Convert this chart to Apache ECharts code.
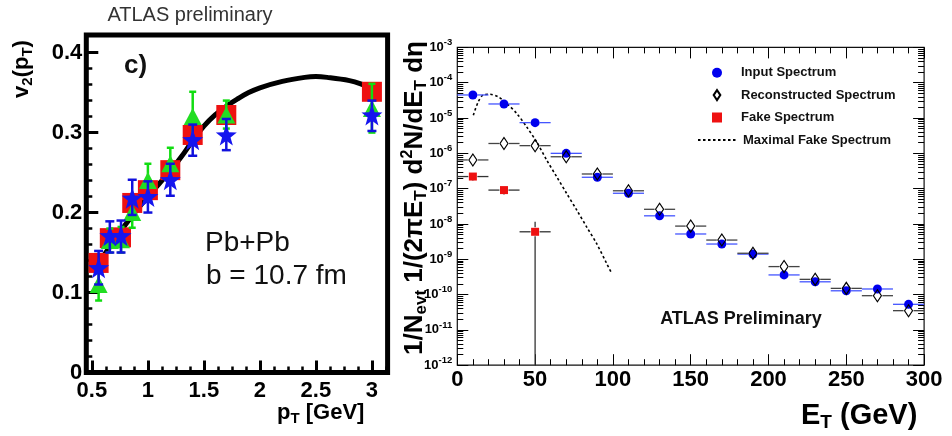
<!DOCTYPE html>
<html>
<head>
<meta charset="utf-8">
<script src="https://cdn.jsdelivr.net/npm/echarts@6/dist/echarts.min.js"></script>
<style>
  html, body { margin: 0; padding: 0; background: #fff; }
  #chart { width: 952px; height: 436px; }
</style>
</head>
<body>
<div id="chart"></div>
<script>
const FONT = '"Liberation Sans", Arial, sans-serif'

// ---- left panel: v2(pT), Pb+Pb b = 10.7 fm ----
const PT = [0.56, 0.66, 0.76, 0.86, 1.0, 1.2, 1.4, 1.7, 3.0]
const RED_V2 = [0.137, 0.168, 0.169, 0.212, 0.228, 0.253, 0.297, 0.322, 0.351]
const GREEN_V2 = [0.110, 0.165, 0.166, 0.200, 0.240, 0.261, 0.320, 0.322, 0.330]
const GREEN_LO = [0.090, 0.150, 0.150, 0.181, 0.220, 0.242, 0.292, 0.305, 0.300]
const GREEN_HI = [0.128, 0.180, 0.182, 0.214, 0.261, 0.281, 0.351, 0.340, 0.361]
const BLUE_V2 = [0.131, 0.171, 0.171, 0.218, 0.220, 0.241, 0.291, 0.297, 0.322]
const BLUE_LO = [0.110, 0.150, 0.150, 0.197, 0.200, 0.221, 0.271, 0.278, 0.302]
const BLUE_HI = [0.152, 0.189, 0.190, 0.241, 0.239, 0.261, 0.310, 0.317, 0.340]
const CURVE_PT = [0.55, 0.6, 0.7, 0.8, 0.9, 1.0, 1.1, 1.2, 1.3, 1.4, 1.5, 1.6, 1.7, 1.8, 1.9, 2.0, 2.2, 2.4, 2.5, 2.6, 2.8, 2.9, 3.0]
const CURVE_V2 = [0.135, 0.145, 0.165, 0.185, 0.203, 0.220, 0.236, 0.252, 0.270, 0.290, 0.308, 0.322, 0.333, 0.342, 0.350, 0.356, 0.364, 0.369, 0.370, 0.369, 0.365, 0.361, 0.355]
const PT_TICKS = [0.5, 1, 1.5, 2, 2.5, 3]
const V2_TICKS = [0, 0.1, 0.2, 0.3, 0.4]

// ---- right panel: ET spectra ----
const ET = [10, 30, 50, 70, 90, 110, 130, 150, 170, 190, 210, 230, 250, 270, 290]
const BIN_HALF = 10
const INPUT = [4.5e-5, 2.5e-5, 7.4e-6, 1.0e-6, 2.1e-7, 7.4e-8, 1.7e-8, 5.2e-9, 2.7e-9, 1.4e-9, 3.6e-10, 2.3e-10, 1.28e-10, 1.44e-10, 5.3e-11]
const RECO = [6.5e-7, 1.9e-6, 1.65e-6, 8.0e-7, 2.6e-7, 8.7e-8, 2.6e-8, 8.7e-9, 3.5e-9, 1.48e-9, 6.2e-10, 2.7e-10, 1.5e-10, 9.3e-11, 3.5e-11]
const FAKE_ET = [10, 30, 50]
const FAKE = [2.2e-7, 9.1e-8, 6.0e-9]
const FAKE_LO = [1.7e-7, 7.8e-8, 1e-12]
const FAKE_HI = [2.2e-7, 9.1e-8, 1.15e-8]
const MAXFAKE_ET = [10.3, 13.5, 16.7, 21, 26.3, 31.7, 38.2, 44.6, 51, 57.4, 63.8, 70.2, 76.7, 83.1, 89.5, 96, 99.2]
const MAXFAKE = [1.2e-5, 2.9e-5, 4.5e-5, 4.7e-5, 4.0e-5, 2.6e-5, 1.35e-5, 5.6e-6, 2.1e-6, 6.5e-7, 2.2e-7, 7.4e-8, 2.5e-8, 8.3e-9, 2.8e-9, 7.6e-10, 4.0e-10]
const ET_TICKS = [0, 50, 100, 150, 200, 250, 300]
const DECADES = [1e-12, 1e-11, 1e-10, 1e-9, 1e-8, 1e-7, 1e-6, 1e-5, 1e-4, 1e-3]

const zip = (...cols) => cols[0].map((_, i) => cols.map(c => c[i]))

// minor tick positions
const ptMinor = []
for (let v = 0.5; v < 3.14; v += 0.125) ptMinor.push(+v.toFixed(3))
const v2Minor = []
for (let v = 0; v < 0.42; v += 0.02) v2Minor.push(+v.toFixed(2))
const logMinor = []
DECADES.slice(0, -1).forEach(d => { for (let m = 2; m <= 9; m++) logMinor.push(m * d) })

function vErr(color, cap, width) {
  return (params, api) => {
    const x = api.value(0)
    const lo = api.coord([x, api.value(1)])
    const hi = api.coord([x, api.value(2)])
    const style = { stroke: color, lineWidth: width }
    return {
      type: 'group',
      children: [
        { type: 'line', shape: { x1: lo[0], y1: lo[1], x2: hi[0], y2: hi[1] }, style },
        { type: 'line', shape: { x1: lo[0] - cap, y1: lo[1], x2: lo[0] + cap, y2: lo[1] }, style },
        { type: 'line', shape: { x1: hi[0] - cap, y1: hi[1], x2: hi[0] + cap, y2: hi[1] }, style }
      ]
    }
  }
}

// horizontal bin bars (and vertical bars when given) with a gap round the marker
function hErr(color, gap) {
  return (params, api) => {
    const et = api.value(0)
    const v = api.value(1)
    const c = api.coord([et, v])
    const l = api.coord([et - BIN_HALF, v])
    const r = api.coord([et + BIN_HALF, v])
    const style = { stroke: color, lineWidth: 1.3 }
    const kids = [
      { type: 'line', shape: { x1: l[0], y1: c[1], x2: c[0] - gap, y2: c[1] }, style },
      { type: 'line', shape: { x1: c[0] + gap, y1: c[1], x2: r[0], y2: c[1] }, style }
    ]
    const lo = api.value(2)
    const hi = api.value(3)
    if (lo && lo < v) {
      const p = api.coord([et, lo])
      kids.push({ type: 'line', shape: { x1: c[0], y1: c[1] + gap, x2: c[0], y2: p[1] }, style })
    }
    if (hi && hi > v) {
      const p = api.coord([et, hi])
      kids.push({ type: 'line', shape: { x1: c[0], y1: c[1] - gap, x2: c[0], y2: p[1] }, style })
    }
    return { type: 'group', children: kids }
  }
}

const STAR = 'path://M12,0 L14.9,8.1 L23.4,8.3 L16.6,13.5 L19.1,21.7 L12,16.8 L4.9,21.7 L7.4,13.5 L0.6,8.3 L9.1,8.1 Z'
const NARROW_DIAMOND = 'path://M4,0 L8,6 L4,12 L0,6 Z'

const boldLbl = (size) => ({ fontFamily: FONT, fontWeight: 'bold', fontSize: size, color: '#000' })
const legendText = { fontFamily: FONT, fontWeight: 'bold', fontSize: 13, lineHeight: 14, color: '#111' }

const chart = echarts.init(document.getElementById('chart'))

const option = {
  animation: false,
  backgroundColor: '#fff',
  grid: [
    { left: 86.3, top: 35, width: 301.3, height: 337.5, show: true, borderWidth: 5, borderColor: '#000', backgroundColor: 'transparent' },
    { left: 457.3, top: 47.4, width: 466.8, height: 317.8, show: true, borderWidth: 1.2, borderColor: '#111', backgroundColor: 'transparent' }
  ],
  xAxis: [
    {
      gridIndex: 0, type: 'value', min: 0.45, max: 3.14, position: 'bottom',
      axisLine: { show: false }, splitLine: { show: false },
      axisTick: { inside: true, length: 12, customValues: PT_TICKS, lineStyle: { color: '#000', width: 3 } },
      axisLabel: { customValues: PT_TICKS, margin: 7, ...boldLbl(22), formatter: v => String(v) }
    },
    {
      gridIndex: 0, type: 'value', min: 0.45, max: 3.14, position: 'bottom',
      axisLine: { show: false }, splitLine: { show: false }, axisLabel: { show: false },
      axisTick: { inside: true, length: 6, customValues: ptMinor, lineStyle: { color: '#000', width: 2.5 } }
    },
    {
      gridIndex: 1, type: 'value', min: 0, max: 300, interval: 50, position: 'bottom',
      axisLine: { show: false }, splitLine: { show: false },
      axisTick: { inside: true, length: 11, lineStyle: { color: '#000', width: 1 } },
      minorTick: { show: true, splitNumber: 5, length: 6, lineStyle: { color: '#000', width: 1 } },
      axisLabel: { margin: 4, ...boldLbl(22), customValues: ET_TICKS }
    },
    {
      gridIndex: 1, type: 'value', min: 0, max: 300, interval: 50, position: 'top',
      axisLine: { show: false }, splitLine: { show: false }, axisLabel: { show: false },
      axisTick: { inside: true, length: 11, lineStyle: { color: '#000', width: 1 } },
      minorTick: { show: true, splitNumber: 5, length: 6, lineStyle: { color: '#000', width: 1 } }
    }
  ],
  yAxis: [
    {
      gridIndex: 0, type: 'value', min: 0, max: 0.422, position: 'left',
      axisLine: { show: false }, splitLine: { show: false },
      axisTick: { inside: true, length: 12, customValues: V2_TICKS, lineStyle: { color: '#000', width: 3 } },
      axisLabel: { customValues: V2_TICKS, margin: 4, ...boldLbl(22), formatter: v => (v === 0 ? '0' : v.toFixed(1)) }
    },
    {
      gridIndex: 0, type: 'value', min: 0, max: 0.422, position: 'left',
      axisLine: { show: false }, splitLine: { show: false }, axisLabel: { show: false },
      axisTick: { inside: true, length: 6, customValues: v2Minor, lineStyle: { color: '#000', width: 2.5 } }
    },
    {
      gridIndex: 1, type: 'log', logBase: 10, min: 1e-12, max: 1e-3, position: 'left',
      axisLine: { show: false }, splitLine: { show: false },
      axisTick: { inside: true, length: 11, customValues: DECADES, lineStyle: { color: '#000', width: 1 } },
      axisLabel: {
        customValues: DECADES, margin: 5,
        formatter: v => `{n|10}{e|${Math.round(Math.log10(v))}}`,
        rich: {
          n: { fontFamily: FONT, fontWeight: 'bold', fontSize: 13, lineHeight: 20, color: '#000' },
          e: { fontFamily: FONT, fontWeight: 'bold', fontSize: 9.5, lineHeight: 10, verticalAlign: 'top', color: '#000' }
        }
      }
    },
    {
      gridIndex: 1, type: 'log', logBase: 10, min: 1e-12, max: 1e-3, position: 'left',
      axisLine: { show: false }, splitLine: { show: false }, axisLabel: { show: false },
      axisTick: { inside: true, length: 6, customValues: logMinor, lineStyle: { color: '#000', width: 1 } }
    },
    {
      gridIndex: 1, type: 'log', logBase: 10, min: 1e-12, max: 1e-3, position: 'right',
      axisLine: { show: false }, splitLine: { show: false }, axisLabel: { show: false },
      axisTick: { inside: true, length: 11, customValues: DECADES, lineStyle: { color: '#000', width: 1 } }
    },
    {
      gridIndex: 1, type: 'log', logBase: 10, min: 1e-12, max: 1e-3, position: 'right',
      axisLine: { show: false }, splitLine: { show: false }, axisLabel: { show: false },
      axisTick: { inside: true, length: 6, customValues: logMinor, lineStyle: { color: '#000', width: 1 } }
    }
  ],
  legend: [
    {
      data: ['Input Spectrum', { name: 'Reconstructed Spectrum', icon: NARROW_DIAMOND }, 'Fake Spectrum'],
      orient: 'vertical', left: 707, top: 60.7,
      itemWidth: 10, itemHeight: 10, itemGap: 8.4, selectedMode: false, symbolKeepAspect: true,
      textStyle: { ...legendText, padding: [0, 0, 0, 14] }
    },
    {
      data: [{ name: 'Maximal Fake Spectrum', itemStyle: { opacity: 0 } }],
      orient: 'vertical', left: 692, top: 128,
      itemWidth: 38, itemHeight: 10, selectedMode: false,
      textStyle: { ...legendText, padding: [0, 0, 0, 2] }
    }
  ],
  series: [
    // left panel
    {
      type: 'line', xAxisIndex: 0, yAxisIndex: 0, smooth: 0.4, symbol: 'none', z: 1,
      lineStyle: { color: '#000', width: 5 },
      data: zip(CURVE_PT, CURVE_V2)
    },
    {
      name: 'red', type: 'scatter', xAxisIndex: 0, yAxisIndex: 0, symbol: 'rect', symbolSize: 20, z: 2,
      itemStyle: { color: '#ee1111', opacity: 1 },
      data: zip(PT, RED_V2)
    },
    {
      type: 'custom', xAxisIndex: 0, yAxisIndex: 0, z: 3,
      renderItem: vErr('#11dd11', 3.5, 2.5),
      encode: { x: 0, y: [1, 2] },
      data: zip(PT, GREEN_LO, GREEN_HI)
    },
    {
      name: 'green', type: 'scatter', xAxisIndex: 0, yAxisIndex: 0, symbol: 'triangle', symbolSize: [18, 17], z: 4,
      itemStyle: { color: '#22dd22', opacity: 1 },
      data: zip(PT, GREEN_V2)
    },
    {
      type: 'custom', xAxisIndex: 0, yAxisIndex: 0, z: 5,
      renderItem: vErr('#1111dd', 4.5, 2.5),
      encode: { x: 0, y: [1, 2] },
      data: zip(PT, BLUE_LO, BLUE_HI)
    },
    {
      name: 'blue', type: 'scatter', xAxisIndex: 0, yAxisIndex: 0, symbol: STAR, symbolSize: 21, z: 6,
      itemStyle: { color: '#1515ee', opacity: 1 },
      data: zip(PT, BLUE_V2)
    },

    // right panel
    {
      name: 'Maximal Fake Spectrum', type: 'line', xAxisIndex: 2, yAxisIndex: 2, smooth: 0.3, symbol: 'none', z: 2,
      lineStyle: { color: '#000', width: 1.6, type: [2.5, 2.5] },
      itemStyle: { color: '#000' },
      data: zip(MAXFAKE_ET, MAXFAKE)
    },
    {
      type: 'custom', xAxisIndex: 2, yAxisIndex: 2, z: 3,
      renderItem: hErr('#4455ff', 4.5),
      encode: { x: 0, y: 1 },
      data: zip(ET, INPUT)
    },
    {
      type: 'custom', xAxisIndex: 2, yAxisIndex: 2, z: 3,
      renderItem: hErr('#444', 5),
      encode: { x: 0, y: 1 },
      data: zip(ET, RECO)
    },
    {
      type: 'custom', xAxisIndex: 2, yAxisIndex: 2, z: 3,
      renderItem: hErr('#333', 4.5),
      encode: { x: 0, y: 1 },
      data: zip(FAKE_ET, FAKE, FAKE_LO, FAKE_HI)
    },
    {
      name: 'Input Spectrum', type: 'scatter', xAxisIndex: 2, yAxisIndex: 2, symbol: 'circle', symbolSize: 9, z: 4,
      itemStyle: { color: '#0000ee', opacity: 1 },
      data: zip(ET, INPUT)
    },
    {
      name: 'Reconstructed Spectrum', type: 'scatter', xAxisIndex: 2, yAxisIndex: 2, symbol: 'diamond', symbolSize: [8, 12], z: 5,
      itemStyle: { color: 'rgba(255,255,255,0)', borderColor: '#000', borderWidth: 1.2, opacity: 1 },
      data: zip(ET, RECO)
    },
    {
      name: 'Fake Spectrum', type: 'scatter', xAxisIndex: 2, yAxisIndex: 2, symbol: 'rect', symbolSize: 8, z: 5,
      itemStyle: { color: '#ee1111', opacity: 1 },
      data: zip(FAKE_ET, FAKE)
    }
  ],
  graphic: [
    { type: 'text', x: 190, y: 15, style: { text: 'ATLAS preliminary', font: `20px ${FONT}`, fill: '#333', align: 'center', verticalAlign: 'middle' } },
    { type: 'text', x: 124, y: 66, style: { text: 'c)', font: `bold 26px ${FONT}`, fill: '#111', align: 'left', verticalAlign: 'middle' } },
    { type: 'text', x: 205, y: 243, style: { text: 'Pb+Pb', font: `28px ${FONT}`, fill: '#111', align: 'left', verticalAlign: 'middle' } },
    { type: 'text', x: 206, y: 276, style: { text: 'b = 10.7 fm', font: `28px ${FONT}`, fill: '#111', align: 'left', verticalAlign: 'middle' } },
    { type: 'text', x: 741, y: 319, style: { text: 'ATLAS Preliminary', font: `bold 18px ${FONT}`, fill: '#111', align: 'center', verticalAlign: 'middle' } },
    {
      type: 'text', x: 277, y: 413,
      style: {
        text: '{a|p}{s|T}{a| [GeV]}', align: 'left', verticalAlign: 'middle',
        rich: {
          a: { fontFamily: FONT, fontWeight: 'bold', fontSize: 22, lineHeight: 26, fill: '#000' },
          s: { fontFamily: FONT, fontWeight: 'bold', fontSize: 15, lineHeight: 10, verticalAlign: 'bottom', fill: '#000' }
        }
      }
    },
    {
      type: 'text', x: 22, y: 69, rotation: Math.PI / 2,
      style: {
        text: '{a|v}{s|2}{a|(p}{s|T}{a|)}', align: 'center', verticalAlign: 'middle',
        rich: {
          a: { fontFamily: FONT, fontWeight: 'bold', fontSize: 22, lineHeight: 26, fill: '#000' },
          s: { fontFamily: FONT, fontWeight: 'bold', fontSize: 15, lineHeight: 10, verticalAlign: 'bottom', fill: '#000' }
        }
      }
    },
    {
      type: 'text', x: 801, y: 416,
      style: {
        text: '{a|E}{s|T}{a| (GeV)}', align: 'left', verticalAlign: 'middle',
        rich: {
          a: { fontFamily: FONT, fontWeight: 'bold', fontSize: 29, lineHeight: 32, fill: '#000' },
          s: { fontFamily: FONT, fontWeight: 'bold', fontSize: 19, lineHeight: 12, verticalAlign: 'bottom', fill: '#000' }
        }
      }
    },
    {
      type: 'text', x: 415, y: 198, rotation: Math.PI / 2,
      style: {
        text: '{a|1/N}{s|evt}{a| 1/(2\u03c0E}{s|T}{a|) d}{p|2}{a|N/dE}{s|T}{a| d\u03b7}', align: 'center', verticalAlign: 'middle',
        rich: {
          a: { fontFamily: FONT, fontWeight: 'bold', fontSize: 26, lineHeight: 30, fill: '#000' },
          s: { fontFamily: FONT, fontWeight: 'bold', fontSize: 17, lineHeight: 12, verticalAlign: 'bottom', fill: '#000' },
          p: { fontFamily: FONT, fontWeight: 'bold', fontSize: 16, lineHeight: 14, verticalAlign: 'top', fill: '#000' }
        }
      }
    }
  ]
}

chart.setOption(option)
</script>
</body>
</html>
